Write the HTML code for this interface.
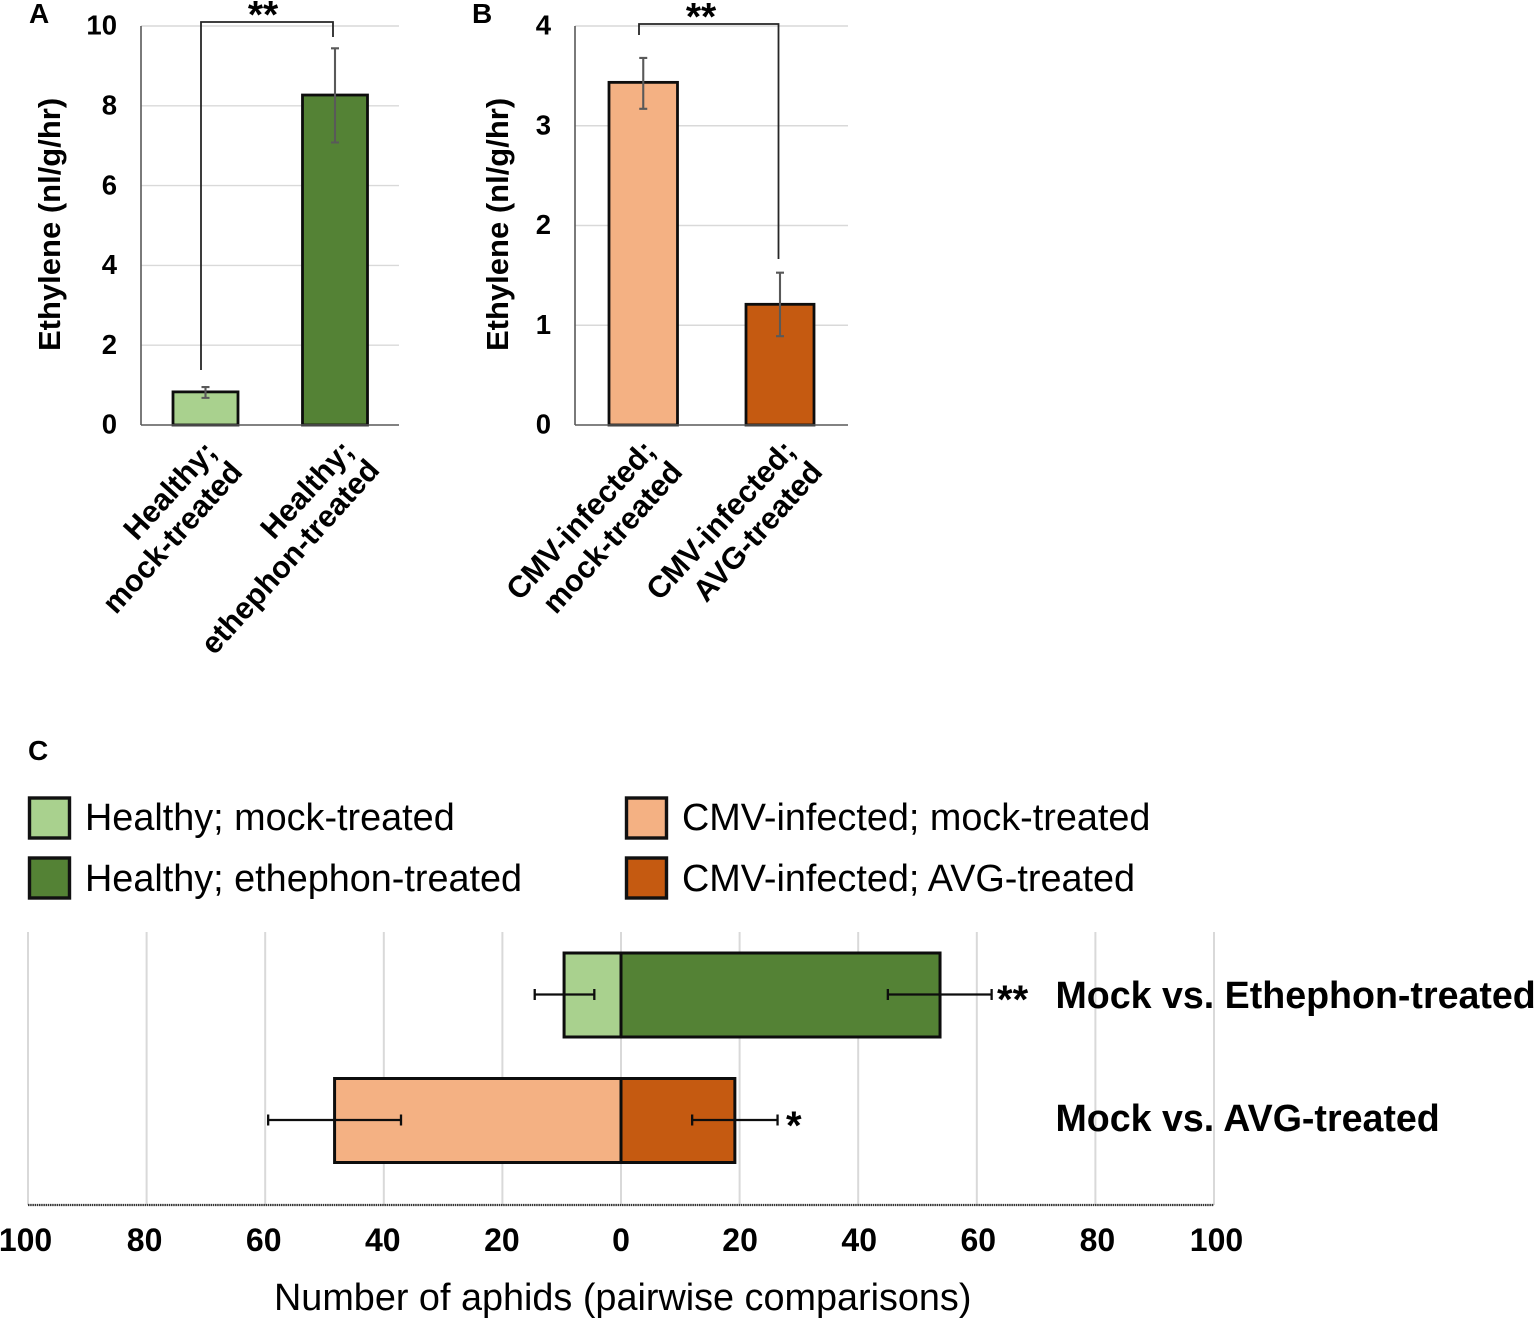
<!DOCTYPE html>
<html lang="en">
<head>
<meta charset="utf-8">
<title>Ethylene and aphid preference charts</title>
<style>
html,body{margin:0;padding:0;background:#fff;}
svg{display:block;font-family:"Liberation Sans",Arial,sans-serif;}
text{fill:#000;}
.b{font-weight:bold;}
</style>
</head>
<body>
<svg id="figure" xmlns="http://www.w3.org/2000/svg" width="1535" height="1318" viewBox="0 0 1535 1318">
  <text class="b" x="29" y="23" font-size="28">A</text>
  <text class="b" x="472" y="23" font-size="28">B</text>
  <text class="b" x="28" y="760" font-size="28">C</text>

  <text class="b" transform="translate(60,351) rotate(-90)" font-size="31">Ethylene (nl/g/hr)</text>
  <text class="b" transform="translate(508,351) rotate(-90)" font-size="31">Ethylene (nl/g/hr)</text>

  <g id="a-grid"></g>
  <g id="b-grid"></g>
  <g id="c-grid"></g>
  <g id="a-bars"></g>
  <g id="b-bars"></g>
  <g id="c-bars"></g>
  <g id="ticks"></g>

  <path d="M201 370V22H333V37" fill="none" stroke="#262626" stroke-width="1.8"/>
  <text class="b" x="263" y="28" font-size="39" text-anchor="middle">**</text>
  <path d="M639 35V24H778.5V259" fill="none" stroke="#262626" stroke-width="1.8"/>
  <text class="b" x="701" y="30" font-size="39" text-anchor="middle">**</text>

  <g class="b" font-size="30.5" text-anchor="end">
    <text transform="translate(218,453) rotate(-47.5)">Healthy;</text>
    <text transform="translate(244,473) rotate(-48)">mock-treated</text>
    <text transform="translate(355,452) rotate(-47.5)">Healthy;</text>
    <text transform="translate(381,471) rotate(-48)">ethephon-treated</text>
    <text transform="translate(657,452) rotate(-47.5)">CMV-infected;</text>
    <text transform="translate(684,473) rotate(-48)">mock-treated</text>
    <text transform="translate(797,452) rotate(-47.5)">CMV-infected;</text>
    <text transform="translate(824,473) rotate(-48)">AVG-treated</text>
  </g>

  <g font-size="37.8">
    <rect x="29.5" y="798" width="40" height="40" fill="#a9d18e" stroke="#111" stroke-width="3.4"/>
    <text x="85" y="830">Healthy; mock-treated</text>
    <rect x="29.5" y="858" width="40" height="40" fill="#548235" stroke="#111" stroke-width="3.4"/>
    <text x="85" y="891">Healthy; ethephon-treated</text>
    <rect x="626.5" y="798" width="40" height="40" fill="#f4b183" stroke="#111" stroke-width="3.4"/>
    <text x="682" y="830">CMV-infected; mock-treated</text>
    <rect x="626.5" y="858" width="40" height="40" fill="#c55a11" stroke="#111" stroke-width="3.4"/>
    <text x="682" y="891">CMV-infected; AVG-treated</text>
  </g>

  <text class="b" x="997" y="1013" font-size="40">**</text>
  <text class="b" x="786" y="1139" font-size="40">*</text>
  <text class="b" x="1055.5" y="1008" font-size="37.6">Mock vs. Ethephon-treated</text>
  <text class="b" x="1055.5" y="1131" font-size="37.6">Mock vs. AVG-treated</text>
  <text x="274" y="1310" font-size="37.8">Number of aphids (pairwise comparisons)</text>
</svg>
<script>
const aTicks = [0, 2, 4, 6, 8, 10];
const aValues = [0.83, 8.27];
const aErrLow = [0.68, 7.08];
const aErrHigh = [0.95, 9.44];

const bTicks = [0, 1, 2, 3, 4];
const bValues = [3.435, 1.21];
const bErrLow = [3.17, 0.89];
const bErrHigh = [3.68, 1.527];

const cTicks = [-100, -80, -60, -40, -20, 0, 20, 40, 60, 80, 100];
const cLeftValues = [9.6, 48.3];
const cRightValues = [53.8, 19.2];
const cLeftErrLow = [4.5, 37.1];
const cLeftErrHigh = [14.55, 59.5];
const cRightErrLow = [45, 12];
const cRightErrHigh = [62.5, 26.4];

const NS = 'http://www.w3.org/2000/svg';
function el(parent, tag, attrs, content) {
  const node = document.createElementNS(NS, tag);
  for (const key in attrs) node.setAttribute(key, attrs[key]);
  if (content !== undefined) node.textContent = content;
  document.getElementById(parent).appendChild(node);
  return node;
}

const GRID = '#d9d9d9';
const AXIS = '#595959';
const EDGE = '#0d0d0d';
const ERR = '#595959';

function drawVerticalPanel(id, ticks, maxValue, left, right, bars, values, low, high, colors, labelRight) {
  const base = 425, top = 26;
  const y = v => base - (v / maxValue) * (base - top);
  ticks.forEach(t => {
    if (t !== 0) {
      const g = el(id + '-grid', 'line', {x1: left, x2: right, y1: y(t), y2: y(t), stroke: GRID, 'stroke-width': 1.4});
      
      
    }
    const lab = el('ticks', 'text', {x: labelRight, y: y(t) + 8.7, 'font-size': 27.5, 'font-weight': 'bold', 'text-anchor': 'end'}, String(t));
    
    
  });
  values.forEach((v, i) => {
    const b = bars[i];
    const r = el(id + '-bars', 'rect', {x: b[0], y: y(v), width: b[1] - b[0], height: base - y(v), fill: colors[i], stroke: EDGE, 'stroke-width': 2.8});
    
    
  });
  const xAxis = el(id + '-bars', 'line', {x1: left, x2: right, y1: base, y2: base, stroke: AXIS, 'stroke-width': 1.6});
  
  
  const yAxis = el(id + '-bars', 'line', {x1: left, x2: left, y1: top, y2: base, stroke: AXIS, 'stroke-width': 1.6});
  
  
  values.forEach((v, i) => {
    const cx = (bars[i][0] + bars[i][1]) / 2;
    const d = 'M' + (cx - 4) + ' ' + y(high[i]) + 'H' + (cx + 4) + 'M' + cx + ' ' + y(high[i]) + 'V' + y(low[i]) + 'M' + (cx - 4) + ' ' + y(low[i]) + 'H' + (cx + 4);
    const e = el(id + '-bars', 'path', {d: d, fill: 'none', stroke: ERR, 'stroke-width': 2.1});
    
    
  });
}

drawVerticalPanel('a', aTicks, 10, 141, 399, [[173, 238], [302.5, 367.5]], aValues, aErrLow, aErrHigh, ['#a9d18e', '#548235'], 117);
drawVerticalPanel('b', bTicks, 4, 575, 848, [[609, 677.5], [746, 814]], bValues, bErrLow, bErrHigh, ['#f4b183', '#c55a11'], 551);

/* Panel C: diverging horizontal bars */
const cX = v => 621 + v * 5.93;
const cLabelX = v => 621 + v * 5.955;
const cRows = [[953, 1037], [1078.5, 1162.5]];
const cLeftColors = ['#a9d18e', '#f4b183'];
const cRightColors = ['#548235', '#c55a11'];
const cRowNames = ['ethephon', 'avg'];

cTicks.forEach(t => {
  const g = el('c-grid', 'line', {x1: cX(t), x2: cX(t), y1: 932, y2: 1205, stroke: GRID, 'stroke-width': 2});
  
  
  const lab = el('ticks', 'text', {x: cLabelX(t), y: 1251, 'font-size': 32, 'font-weight': 'bold', 'text-anchor': 'middle'}, String(Math.abs(t)));
  
  
});
const cAxis = el('c-grid', 'line', {x1: cX(-100), x2: cX(100), y1: 1205, y2: 1205, stroke: '#333333', 'stroke-width': 2.2, 'stroke-dasharray': '1.5 0.7'});



cRows.forEach((row, i) => {
  const l = el('c-bars', 'rect', {x: cX(-cLeftValues[i]), y: row[0], width: cX(0) - cX(-cLeftValues[i]), height: row[1] - row[0], fill: cLeftColors[i], stroke: EDGE, 'stroke-width': 3});
  
  
  const r = el('c-bars', 'rect', {x: cX(0), y: row[0], width: cX(cRightValues[i]) - cX(0), height: row[1] - row[0], fill: cRightColors[i], stroke: EDGE, 'stroke-width': 3});
  
  
  const cy = (row[0] + row[1]) / 2 - 0.5;
  const errSpan = (a, b) => 'M' + a + ' ' + (cy - 5.5) + 'V' + (cy + 5.5) + 'M' + a + ' ' + cy + 'H' + b + 'M' + b + ' ' + (cy - 5.5) + 'V' + (cy + 5.5);
  const e1 = el('c-bars', 'path', {d: errSpan(cX(-cLeftErrHigh[i]), cX(-cLeftErrLow[i])), fill: 'none', stroke: EDGE, 'stroke-width': 2.3});
  
  
  const e2 = el('c-bars', 'path', {d: errSpan(cX(cRightErrLow[i]), cX(cRightErrHigh[i])), fill: 'none', stroke: EDGE, 'stroke-width': 2.3});
  
  
});
</script>
</body>
</html>
